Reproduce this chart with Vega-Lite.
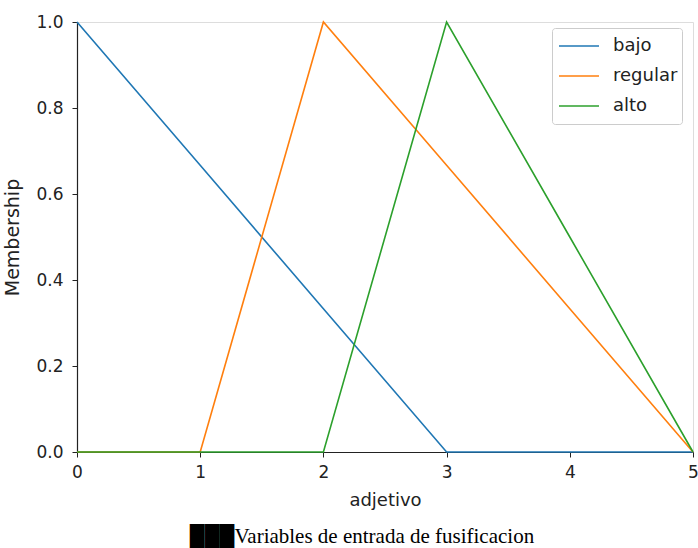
{
  "$schema": "https://vega.github.io/schema/vega-lite/v6.json",
  "width": 616,
  "height": 430,
  "autosize": "none",
  "padding": {"left": 77, "top": 22, "right": 5, "bottom": 96},
  "background": "white",
  "title": {
    "text": "███Variables de entrada de fusificacion",
    "orient": "bottom",
    "anchor": "middle",
    "frame": "group",
    "font": "Liberation Serif",
    "fontSize": 21,
    "fontWeight": "normal",
    "color": "#000000",
    "baseline": "alphabetic",
    "offset": 34,
    "dx": -23
  },
  "data": {
    "values": [
      {"x": 0, "y": 1.0, "series": "bajo"},
      {"x": 1, "y": 0.667, "series": "bajo"},
      {"x": 2, "y": 0.333, "series": "bajo"},
      {"x": 3, "y": 0.0, "series": "bajo"},
      {"x": 4, "y": 0.0, "series": "bajo"},
      {"x": 5, "y": 0.0, "series": "bajo"},
      {"x": 0, "y": 0.0, "series": "regular"},
      {"x": 1, "y": 0.0, "series": "regular"},
      {"x": 2, "y": 1.0, "series": "regular"},
      {"x": 3, "y": 0.667, "series": "regular"},
      {"x": 4, "y": 0.333, "series": "regular"},
      {"x": 5, "y": 0.0, "series": "regular"},
      {"x": 0, "y": 0.0, "series": "alto"},
      {"x": 1, "y": 0.0, "series": "alto"},
      {"x": 2, "y": 0.0, "series": "alto"},
      {"x": 3, "y": 1.0, "series": "alto"},
      {"x": 4, "y": 0.5, "series": "alto"},
      {"x": 5, "y": 0.0, "series": "alto"}
    ]
  },
  "mark": {"type": "line", "strokeWidth": 1.6, "clip": false},
  "encoding": {
    "x": {
      "field": "x",
      "type": "quantitative",
      "scale": {"domain": [0, 5], "nice": false},
      "axis": {
        "title": "adjetivo",
        "values": [0, 1, 2, 3, 4, 5],
        "format": "d",
        "grid": false,
        "domainColor": "#222222",
        "domainWidth": 1.2,
        "tickColor": "#222222",
        "tickSize": 5,
        "labelPadding": 7,
        "labelFont": "DejaVu Sans",
        "labelFontSize": 17,
        "labelColor": "#222222",
        "labelFlush": false,
        "titleFont": "DejaVu Sans",
        "titleFontSize": 18,
        "titleFontWeight": "normal",
        "titleColor": "#222222",
        "titleBaseline": "alphabetic",
        "titleAlign": "center",
        "titleX": 308,
        "titleY": 53
      }
    },
    "y": {
      "field": "y",
      "type": "quantitative",
      "scale": {"domain": [0, 1], "nice": false},
      "axis": {
        "title": "Membership",
        "values": [0, 0.2, 0.4, 0.6, 0.8, 1.0],
        "format": ".1f",
        "grid": false,
        "domainColor": "#222222",
        "domainWidth": 1.2,
        "tickColor": "#222222",
        "tickSize": 5,
        "labelPadding": 9,
        "labelFont": "DejaVu Sans",
        "labelFontSize": 17,
        "labelColor": "#222222",
        "labelFlush": false,
        "titleFont": "DejaVu Sans",
        "titleFontSize": 19,
        "titleFontWeight": "normal",
        "titleColor": "#222222",
        "titleAngle": -90,
        "titleBaseline": "alphabetic",
        "titleAlign": "center",
        "titleX": -59,
        "titleY": 215
      }
    },
    "color": {
      "field": "series",
      "type": "nominal",
      "scale": {"domain": ["bajo", "regular", "alto"], "range": ["#1f77b4", "#ff7f0e", "#2ca02c"]},
      "legend": {
        "title": null,
        "orient": "none",
        "legendX": 475,
        "legendY": 6,
        "padding": 4,
        "rowPadding": 2,
        "clipHeight": 28,
        "symbolType": "stroke",
        "symbolSize": 1600,
        "symbolStrokeWidth": 1.6,
        "symbolOffset": 2,
        "labelOffset": 13,
        "labelFont": "DejaVu Sans",
        "labelFontSize": 18,
        "labelColor": "#222222",
        "strokeColor": "#cccccc",
        "fillColor": "#ffffff",
        "cornerRadius": 3
      }
    },
    "order": {"field": "x", "type": "quantitative"}
  }
}
